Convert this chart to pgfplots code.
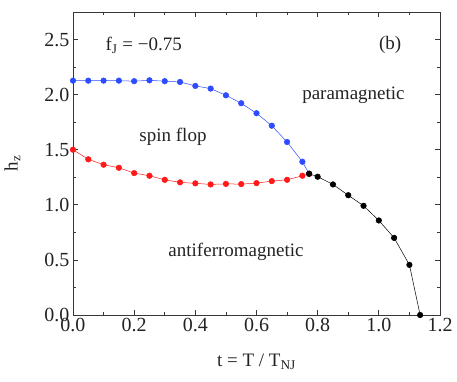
\documentclass[border=0pt]{standalone}
\usepackage{fontspec}
\setmainfont{Liberation Serif}
\usepackage{pgfplots}
\pgfplotsset{compat=1.18}
\usetikzlibrary{calc}
\definecolor{myblue}{RGB}{45,75,255}
\definecolor{myred}{RGB}{255,25,25}
\definecolor{axgray}{RGB}{55,55,55}
\definecolor{txtgray}{RGB}{35,35,35}
\begin{document}
\begin{tikzpicture}
\begin{axis}[
  scale only axis, width=367pt, height=303pt,
  xmin=0, xmax=1.2, ymin=0, ymax=2.75,
  xtick={0,0.2,0.4,0.6,0.8,1.0,1.2},
  ytick={0,0.5,1.0,1.5,2.0,2.5},
  minor x tick num=1, minor y tick num=1,
  tick align=inside, major tick length=5pt, minor tick length=3pt,
  xticklabel style={/pgf/number format/fixed,/pgf/number format/fixed zerofill,/pgf/number format/precision=1},
  yticklabel style={/pgf/number format/fixed,/pgf/number format/fixed zerofill,/pgf/number format/precision=1},
  /pgf/number format/assume math mode=true,
  tick label style={font=\fontsize{20}{21}\selectfont, text=txtgray},
  axis line style={axgray, line width=0.8pt},
  tick style={axgray, line width=0.7pt},
  xlabel={t = T / T\textsubscript{NJ}},
  ylabel={h\textsubscript{z}},
  label style={font=\fontsize{19}{20}\selectfont, text=txtgray},
  xlabel style={at={(axis description cs:0.5,-0.155)}, anchor=center},
  ylabel style={at={(axis description cs:-0.165,0.5)}, anchor=center},
  clip=false,
]
\addplot[myblue, line width=0.5pt, mark=*, mark size=2.8pt, mark options={fill=myblue, draw=myblue}] coordinates {
(0,2.127)(0.05,2.127)(0.1,2.127)(0.15,2.127)(0.2,2.122)(0.25,2.13)(0.3,2.122)(0.35,2.115)(0.4,2.079)(0.45,2.055)(0.5,1.994)(0.55,1.922)(0.6,1.831)(0.65,1.718)(0.7,1.57)(0.75,1.391)(0.772,1.282)};
\addplot[myred, line width=0.5pt, mark=*, mark size=2.8pt, mark options={fill=myred, draw=myred}] coordinates {
(0,1.5)(0.05,1.413)(0.1,1.364)(0.15,1.336)(0.2,1.288)(0.25,1.264)(0.3,1.227)(0.35,1.204)(0.4,1.195)(0.45,1.185)(0.5,1.19)(0.55,1.188)(0.6,1.197)(0.65,1.215)(0.7,1.227)(0.75,1.264)(0.772,1.282)};
\addplot[black, line width=0.5pt, mark=*, mark size=2.8pt, mark options={fill=black, draw=black}] coordinates {
(0.772,1.282)(0.8,1.255)(0.85,1.185)(0.9,1.087)(0.95,0.991)(1.0,0.858)(1.05,0.70)(1.1,0.455)(1.135,0)};
\node[anchor=west, text=txtgray, font=\fontsize{19}{20}\selectfont] at (axis cs:0.095,2.45) {f\textsubscript{J} = −0.75};
\node[text=txtgray, font=\fontsize{19}{20}\selectfont] at (axis cs:1.037,2.45) {(b)};
\node[text=txtgray, font=\fontsize{19}{20}\selectfont] at (axis cs:0.917,1.99) {paramagnetic};
\node[text=txtgray, font=\fontsize{19}{20}\selectfont] at (axis cs:0.327,1.617) {spin flop};
\node[text=txtgray, font=\fontsize{19}{20}\selectfont] at (axis cs:0.533,0.57) {antiferromagnetic};
\end{axis}
\pgfresetboundingbox
\path ($(current axis.south west)+(-73pt,-67pt)$) rectangle ($(current axis.north east)+(17pt,12pt)$);
\end{tikzpicture}
\end{document}
